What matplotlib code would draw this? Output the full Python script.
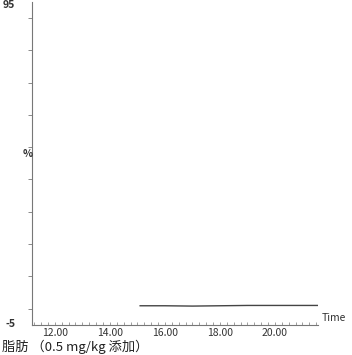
import matplotlib.pyplot as plt
from matplotlib.ticker import MultipleLocator

plt.rcParams['font.family'] = ['Liberation Sans Narrow', 'Noto Sans CJK JP', 'DejaVu Sans']

# trace (hours, %)
time_h = [15.1, 16.0, 17.0, 18.0, 19.0, 20.0, 21.0, 21.6]
pct = [0.9, 0.9, 0.8, 0.9, 1.0, 1.0, 1.0, 1.0]
x_ticks = [12, 14, 16, 18, 20]
x_labels = ["12.00", "14.00", "16.00", "18.00", "20.00"]


def main():
    fig = plt.figure(figsize=(3.52, 3.55), dpi=100)
    ax = fig.add_axes([0.091, 0.085, 0.812, 0.91])

    ax.plot(time_h, pct, color="#444444", lw=1.0)

    ax.set_xlim(11.17, 21.56)
    ax.set_ylim(-5, 95)
    ax.set_xticks(x_ticks)
    ax.set_xticklabels(x_labels, fontsize=7.5, color="#333333")
    ax.xaxis.set_minor_locator(MultipleLocator(0.25))
    ax.tick_params(axis="x", which="both", direction="in", length=2, width=0.5,
                   color="#777777", pad=2)
    ax.set_yticks(range(0, 95, 10))
    ax.set_yticklabels([])
    ax.tick_params(axis="y", which="both", direction="out", length=3, width=0.6,
                   color="#777777")

    for side in ["top", "right"]:
        ax.spines[side].set_visible(False)
    for side in ["left", "bottom"]:
        ax.spines[side].set_color("#777777")
        ax.spines[side].set_linewidth(0.8)

    fig.text(0.025, 0.985, "95", fontsize=7.5, weight="bold", ha="center", va="center",
             color="#333333")
    fig.text(0.03, 0.087, "-5", fontsize=7.5, weight="bold", ha="center", va="center",
             color="#333333")
    fig.text(0.08, 0.565, "%", fontsize=7.5, weight="bold", ha="center", va="center",
             color="#333333")
    fig.text(0.915, 0.105, "Time", fontsize=7.5, ha="left", va="center", color="#333333")
    fig.text(0.005, 0.002, "脂肪 （0.5 mg/kg 添加）", fontsize=9.5, ha="left", va="bottom",
             color="#222222", family=['Noto Sans CJK JP', 'DejaVu Sans'])

    fig.savefig("out.png", dpi=100)
    plt.close(fig)


if __name__ == "__main__":
    main()
